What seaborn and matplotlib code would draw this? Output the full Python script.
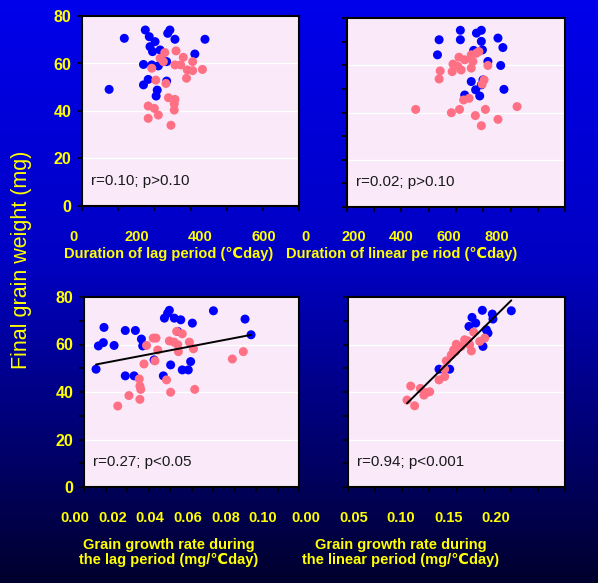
import numpy as np
import pandas as pd
import matplotlib
matplotlib.use('Agg')
import matplotlib.pyplot as plt
from matplotlib import font_manager
from matplotlib.ticker import MultipleLocator
import seaborn as sns

# ---- values ----
# panel 1: duration of lag period (Cday) vs final grain weight (mg)
lagdur_blue_x = [117, 75, 175, 186, 202, 188, 195, 216, 243, 237, 257, 340, 312, 234, 170, 193, 211, 183, 170, 234, 208, 205, 220]
lagdur_blue_y = [70.6, 49.1, 74.1, 71.3, 69.2, 67.1, 65.0, 65.7, 74.1, 72.7, 70.2, 70.2, 64.0, 60.8, 59.6, 59.4, 59.0, 53.3, 51.0, 52.6, 48.8, 46.3, 61.5]
lagdur_pink_x = [229, 260, 216, 225, 280, 306, 257, 273, 291, 306, 333, 289, 193, 204, 232, 239, 257, 183, 200, 211, 183, 255, 255, 246]
lagdur_pink_y = [64.6, 65.3, 62.2, 60.8, 62.6, 60.8, 59.4, 59.4, 57.3, 57.0, 57.5, 53.8, 58.0, 53.0, 51.6, 45.6, 44.9, 42.1, 41.1, 38.3, 36.9, 40.4, 43.0, 34.0]

# panel 2: duration of linear period (Cday)
lindur_blue_x = [416, 416, 338, 332, 475, 493, 493, 554, 572, 497, 517, 564, 465, 456, 499, 472, 432, 487, 576, 493]
lindur_blue_y = [74.8, 70.8, 70.8, 64.4, 73.6, 74.8, 70.1, 71.5, 67.5, 66.5, 61.6, 59.9, 66.3, 53.1, 53.8, 49.6, 47.4, 47.0, 49.8, 51.7]
lindur_pink_x = [475, 484, 456, 411, 432, 389, 407, 419, 456, 386, 342, 338, 517, 503, 496, 448, 428, 252, 383, 413, 508, 624, 471, 554, 493, 462]
lindur_pink_y = [65.1, 65.8, 64.4, 63.4, 62.3, 60.5, 59.5, 58.0, 58.8, 57.3, 57.6, 54.2, 59.9, 53.8, 52.0, 46.0, 45.3, 41.3, 39.9, 41.3, 41.3, 42.5, 38.7, 37.1, 34.4, 61.6]

# panel 3: grain growth rate during the lag period (mg/Cday)
lagrate_blue_x = [0.0056, 0.0067, 0.0090, 0.0093, 0.0140, 0.0192, 0.0239, 0.0267, 0.0273, 0.0192, 0.0233, 0.0326, 0.0374, 0.0389,
                  0.0397, 0.0420, 0.0450, 0.0504, 0.0436, 0.0403, 0.0457, 0.0485, 0.0496, 0.0369, 0.0602, 0.0749, 0.0777]
lagrate_blue_y = [49.6, 59.4, 60.8, 67.2, 59.6, 65.9, 65.9, 62.3, 59.4, 46.8, 46.8, 53.5, 71.1, 73.2,
                  74.4, 71.1, 70.4, 69.0, 65.5, 51.4, 49.3, 49.3, 52.8, 46.8, 74.2, 70.7, 64.1]
lagrate_pink_x = [0.0291, 0.0322, 0.0335, 0.0343, 0.0330, 0.0279, 0.0431, 0.0457, 0.0397, 0.0419, 0.0436, 0.0439, 0.0490,
                  0.0509, 0.0257, 0.0260, 0.0264, 0.0384, 0.0403, 0.0515, 0.0209, 0.0260, 0.0157, 0.0690, 0.0741]
lagrate_pink_y = [59.6, 62.7, 62.7, 57.7, 53.1, 51.8, 65.5, 64.5, 61.5, 61.0, 59.9, 57.0, 61.0,
                  58.2, 45.5, 42.5, 41.1, 45.1, 39.9, 41.1, 38.5, 36.9, 34.1, 53.9, 57.0]

# panel 4: grain growth rate during the linear period (mg/Cday)
linrate_blue_x = [0.1505, 0.1238, 0.1330, 0.1143, 0.1336, 0.1115, 0.1177, 0.1275, 0.1290, 0.1244, 0.1084, 0.0839, 0.0937]
linrate_blue_y = [74.2, 74.4, 72.8, 71.4, 70.7, 67.6, 69.0, 66.2, 64.8, 59.2, 61.3, 49.6, 49.6]
linrate_pink_x = [0.1158, 0.1260, 0.1214, 0.1121, 0.1137, 0.1075, 0.0998, 0.0974, 0.0952, 0.0906, 0.0891, 0.0891,
                  0.0839, 0.0753, 0.0722, 0.0667, 0.0700, 0.0578, 0.0544, 0.0614, 0.1044, 0.1106, 0.0989]
linrate_pink_y = [65.2, 62.7, 61.3, 59.9, 57.3, 62.0, 60.1, 57.7, 55.6, 53.1, 49.6, 46.5,
                  45.1, 40.1, 39.7, 41.5, 38.7, 42.5, 36.6, 34.2, 59.2, 61.5, 57.0]

stats_text = ['r=0.10; p>0.10', 'r=0.02; p>0.10', 'r=0.27; p<0.05', 'r=0.94; p<0.001']
x_labels = ['Duration of lag period (\u2103day)',
            'Duration of linear pe riod (\u2103day)',
            'Grain growth rate during\nthe lag period (mg/\u2103day)',
            'Grain growth rate during\nthe linear period (mg/\u2103day)']
x_ticklabels = [['0', '200', '400', '600'],
                ['0', '200', '400', '600', '800'],
                ['0.00', '0.02', '0.04', '0.06', '0.08', '0.10'],
                ['0.00', '0.05', '0.10', '0.15', '0.20']]
y_ticks = [0, 20, 40, 60, 80]

sns.set_style('ticks')
names = {f.name for f in font_manager.fontManager.ttflist}
narrow = 'Liberation Sans Narrow' if 'Liberation Sans Narrow' in names else 'Liberation Sans'
nscale = 1.0 if narrow == 'Liberation Sans Narrow' else 0.84
plt.rcParams['font.family'] = ['Liberation Sans', 'DejaVu Sans']

YELLOW = '#FFFF00'
BLUE = '#0000FF'
PINK = '#FF7085'
FACE = '#F9E9F9'

W, H = 598, 583
fig = plt.figure(figsize=(W / 100, H / 100), dpi=100)

# gradient background
bg = fig.add_axes([0, 0, 1, 1], zorder=-5)
t = np.linspace(0, 1, 300)
b = np.interp(t, [0, 0.45, 1], [235, 195, 45]) / 255
grad = np.zeros((300, 1, 3))
grad[:, 0, 2] = b
bg.imshow(grad, aspect='auto', extent=[0, 1, 0, 1])
bg.axis('off')


def frac(l, t_, w, h):
    return [l / W, 1 - (t_ + h) / H, w / W, h / H]


panels = [
    dict(rect=frac(82, 16, 217, 190), strip=(73.7, 230, 190.3), xlim=(0, 600), xstep=100,
         lab=[0, 200, 400, 600], data=(lagdur_blue_x, lagdur_blue_y, lagdur_pink_x, lagdur_pink_y),
         fit=False, ylab=True, yminor=False, xpad=2),
    dict(rect=frac(347, 18, 218, 189), strip=(306, 230, 191), xlim=(0, 800), xstep=100,
         lab=[0, 200, 400, 600, 800], data=(lindur_blue_x, lindur_blue_y, lindur_pink_x, lindur_pink_y),
         fit=False, ylab=False, yminor=True, xpad=2),
    dict(rect=frac(84, 297, 215, 190), strip=(75, 511, 188), xlim=(0, 0.10), xstep=0.01,
         lab=[0, 0.02, 0.04, 0.06, 0.08, 0.10], data=(lagrate_blue_x, lagrate_blue_y, lagrate_pink_x, lagrate_pink_y),
         fit=True, ylab=True, yminor=True, xpad=9),
    dict(rect=frac(348, 297, 217, 190), strip=(306, 511, 190), xlim=(0, 0.20), xstep=0.025,
         lab=[0, 0.05, 0.10, 0.15, 0.20], data=(linrate_blue_x, linrate_blue_y, linrate_pink_x, linrate_pink_y),
         fit=True, ylab=False, yminor=True, xpad=9),
]

for i, p in enumerate(panels):
    ax = fig.add_axes(p['rect'])
    ax.set_facecolor(FACE)
    bx, by, px, py = p['data']
    df = pd.concat([pd.DataFrame({'x': bx, 'y': by, 'g': 'blue'}),
                    pd.DataFrame({'x': px, 'y': py, 'g': 'pink'})], ignore_index=True)
    sns.scatterplot(data=df, x='x', y='y', hue='g', palette={'blue': BLUE, 'pink': PINK},
                    s=42, linewidth=0, legend=False, ax=ax, zorder=3)
    if p['fit']:
        sns.regplot(data=df, x='x', y='y', scatter=False, ci=None, ax=ax,
                    line_kws=dict(color='black', lw=1.4, zorder=4))
    ax.set_xlim(*p['xlim'])
    ax.set_ylim(0, 80)
    ax.xaxis.set_major_locator(MultipleLocator(p['xstep']))
    ax.set_yticks(y_ticks)
    if p['yminor']:
        ax.yaxis.set_minor_locator(MultipleLocator(10))
    ax.grid(axis='y', color='white', lw=1.0)
    ax.set_axisbelow(True)
    ax.set_xlabel('')
    ax.set_ylabel('')
    ax.tick_params(axis='both', which='both', direction='out', length=3.5, width=1.2, color='black')
    ax.tick_params(axis='x', labelbottom=False)
    if p['ylab']:
        ax.tick_params(axis='y', labelcolor=YELLOW, labelsize=11.5, pad=4)
        for lab in ax.get_yticklabels():
            lab.set_fontweight('bold')
    else:
        ax.tick_params(axis='y', labelleft=False)
    for s in ax.spines.values():
        s.set_color('black')
        s.set_linewidth(1.5)
    ax.text(0.042, 0.13, stats_text[i], transform=ax.transAxes, va='center', ha='left',
            fontsize=13 * nscale, family=[narrow, 'DejaVu Sans'], color='#1a1a1a', zorder=5)

    # tick label strip (labels in the reference sit apart from the tick marks)
    sl, st, sw = p['strip']
    sx = fig.add_axes([sl / W, 1 - st / H, sw / W, 0.0005])
    sx.set_xlim(*p['xlim'])
    sx.set_xticks(p['lab'])
    sx.set_xticklabels(x_ticklabels[i])
    sx.set_yticks([])
    sx.patch.set_alpha(0)
    for s in sx.spines.values():
        s.set_visible(False)
    sx.tick_params(axis='x', length=0, pad=0, labelcolor=YELLOW, labelsize=12.5 * nscale)
    for lab in sx.get_xticklabels():
        lab.set_fontweight('bold')
        lab.set_family([narrow, 'DejaVu Sans'])
    sx.set_xlabel(x_labels[i], color=YELLOW, fontsize=12.5 * nscale, fontweight='bold',
                  family=[narrow, 'DejaVu Sans'], labelpad=p['xpad'], linespacing=1.15)

fig.text(22 / W, 1 - 260 / H, 'Final grain weight (mg)', rotation=90, ha='center', va='center',
         color=YELLOW, fontsize=15.5)

fig.savefig('out.png', dpi=100)
